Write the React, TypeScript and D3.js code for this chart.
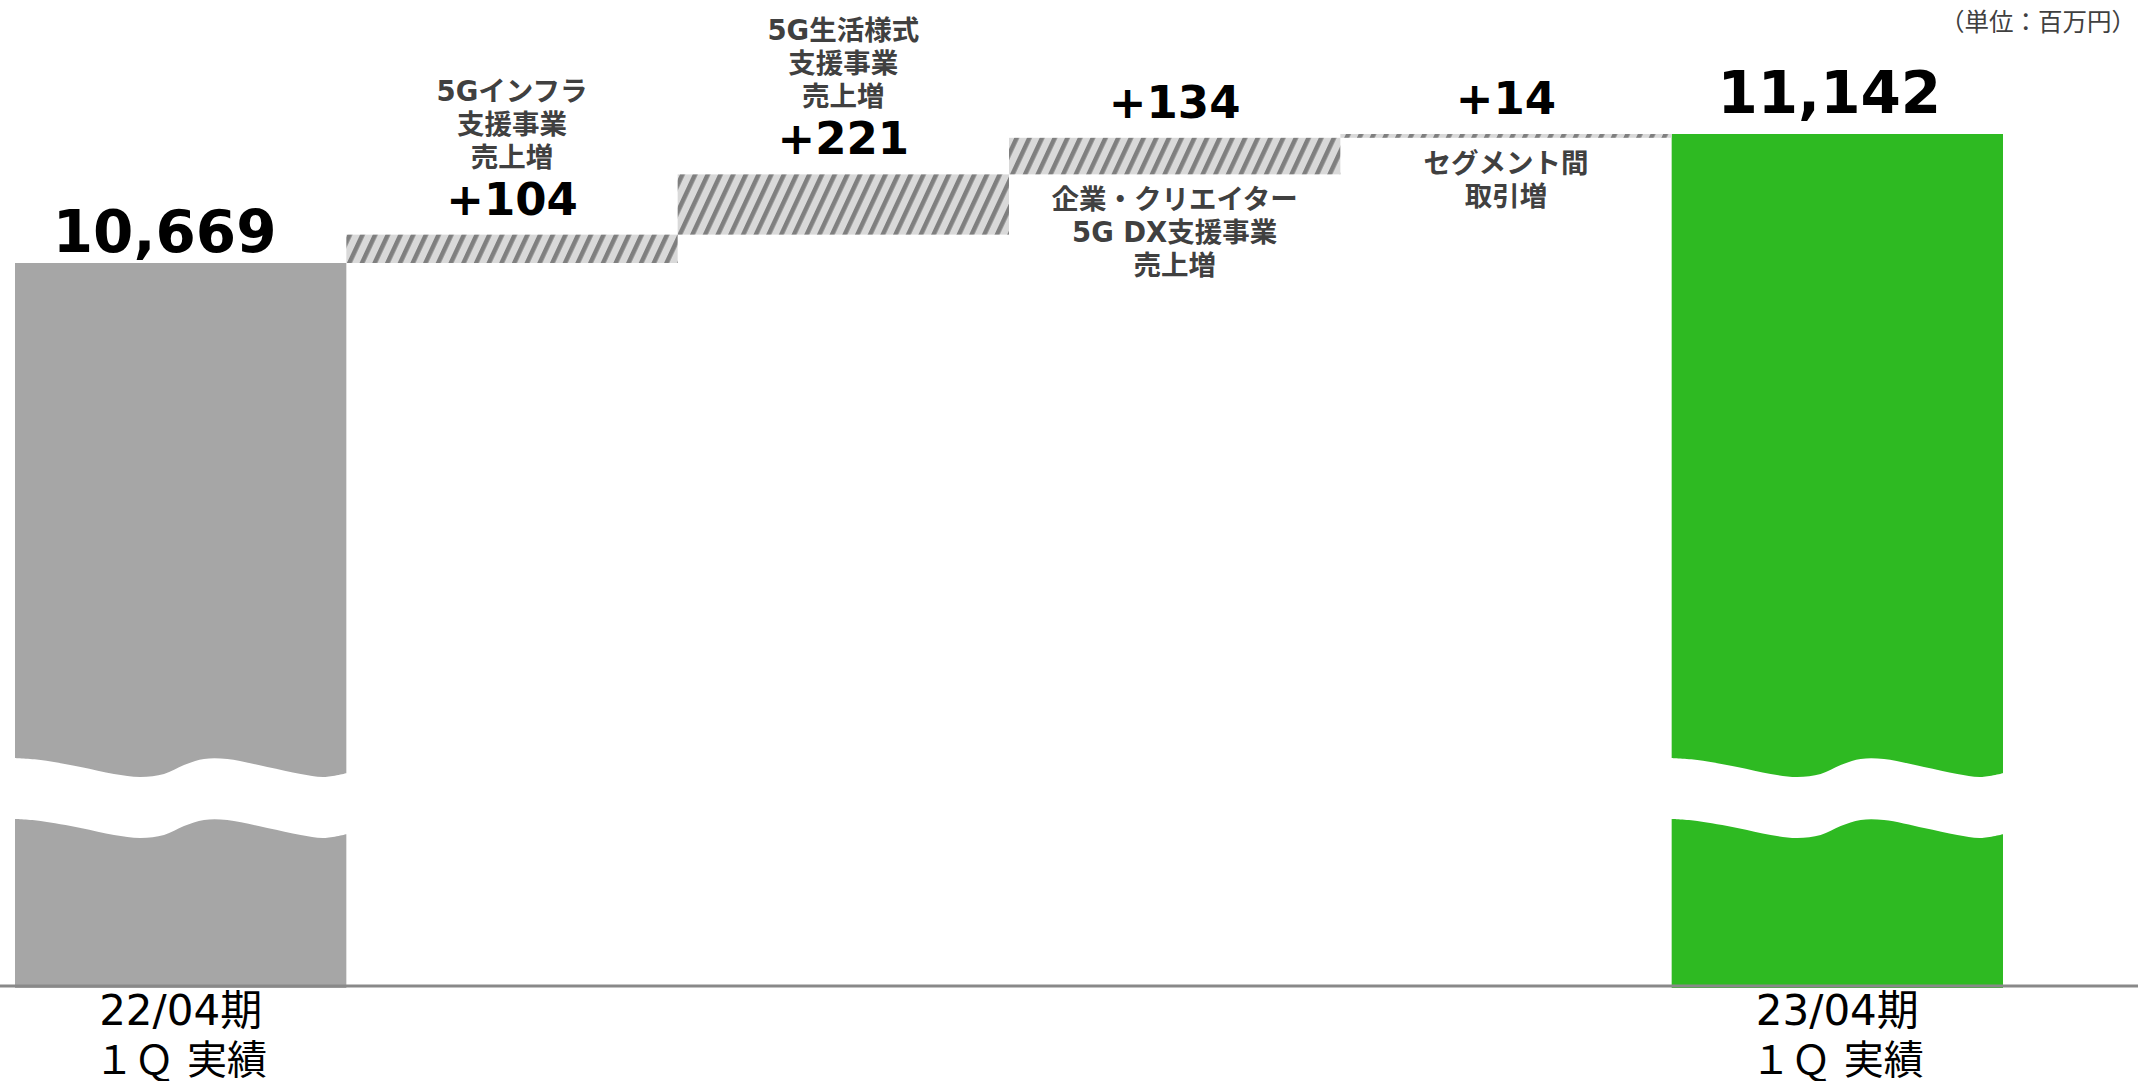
import React from "react";
import * as d3 from "d3";

// values in 百万円
const startLabel = ["22/04期", "１Ｑ 実績"];
const endLabel = ["23/04期", "１Ｑ 実績"];
const startValue = 10669;
const endValue = 11142;

const deltaNames = [
  ["5Gインフラ", "支援事業", "売上増"],
  ["5G生活様式", "支援事業", "売上増"],
  ["企業・クリエイター", "5G DX支援事業", "売上増"],
  ["セグメント間", "取引増"],
];
const deltaValues = [104, 221, 134, 14];

// the axis is broken: everything below this value is hidden behind the wave
const axisFloor = 8018;

const W = 2138;
const H = 1081;
const FONT = "'DejaVu Sans', 'Noto Sans CJK JP', sans-serif";

function App() {
  const x = d3
    .scaleBand<number>()
    .domain(d3.range(deltaValues.length + 2))
    .range([15, 2003])
    .padding(0);

  const y = d3.scaleLinear().domain([axisFloor, endValue]).range([986, 134]);
  const axisY = y(axisFloor);

  // build waterfall steps
  let running = startValue;
  const steps = deltaValues.map((v, i) => {
    const s = { i: i + 1, from: running, to: running + v, value: v, names: deltaNames[i] };
    running += v;
    return s;
  });

  const totals = [
    { i: 0, value: startValue, label: startLabel, fill: "#a6a6a6", dx: -16, gap: 11 },
    { i: deltaValues.length + 1, value: endValue, label: endLabel, fill: "#2eba22", dx: -8, gap: 21 },
  ];

  // wave break shape (fraction of bar width, offset in px)
  const wavePts: [number, number][] = [
    [0, 0],
    [0.08, 2],
    [0.2, 9],
    [0.3, 16],
    [0.38, 19],
    [0.45, 16],
    [0.51, 7],
    [0.57, 1],
    [0.64, 1],
    [0.76, 9],
    [0.86, 16],
    [0.93, 19],
    [1, 15],
  ];
  const breakTop = axisY - 228;
  const breakGap = 61;

  const wave = (x0: number, w: number) =>
    d3
      .area<[number, number]>()
      .x((d) => x0 - 1 + d[0] * (w + 2))
      .y0((d) => breakTop + d[1])
      .y1((d) => breakTop + d[1] + breakGap)
      .curve(d3.curveCatmullRom.alpha(0.5))(wavePts) || "";

  const bw = x.bandwidth();

  return (
    <svg
      width={W}
      height={H}
      style={{ position: "absolute", left: 0, top: 0, background: "#fff" }}
    >
      <defs>
        <pattern
          id="hatch"
          patternUnits="userSpaceOnUse"
          width={11.5}
          height={11.5}
          patternTransform="rotate(25)"
        >
          <rect width={11.5} height={11.5} fill="#d9d9d9" />
          <rect width={4.5} height={11.5} fill="#7f7f7f" />
        </pattern>
      </defs>

      {/* unit */}
      <text
        x={2136}
        y={31}
        textAnchor="end"
        fontFamily={FONT}
        fontSize={24.5}
        fill="#404040"
      >
        （単位：百万円）
      </text>

      {/* total bars */}
      {totals.map((t) => (
        <g key={"t" + t.i}>
          <rect
            x={x(t.i)!}
            y={y(t.value)}
            width={bw}
            height={axisY - y(t.value) + 2}
            fill={t.fill}
          />
          <path d={wave(x(t.i)!, bw)} fill="#fff" />
          <text
            x={x(t.i)! + bw / 2 + t.dx}
            y={y(t.value) - t.gap}
            textAnchor="middle"
            fontFamily={FONT}
            fontWeight="bold"
            fontSize={58}
            fill="#000"
          >
            {d3.format(",")(t.value)}
          </text>
          {t.label.map((line, k) => (
            <text
              key={k}
              x={x(t.i)! + bw / 2}
              y={axisY + 39 + k * 49}
              textAnchor="middle"
              fontFamily={FONT}
              fontSize={k === 0 ? 42 : 40}
              fill="#000"
            >
              {line}
            </text>
          ))}
        </g>
      ))}

      {/* delta bars */}
      {steps.map((s) => {
        const top = y(s.to);
        const bottom = y(s.from);
        const cx = x(s.i)! + bw / 2;
        const valueBase = top - 20;
        const above = s.i <= 2;
        return (
          <g key={"d" + s.i}>
            <rect
              x={x(s.i)!}
              y={top}
              width={bw}
              height={bottom - top}
              fill="url(#hatch)"
            />
            <text
              x={cx}
              y={valueBase}
              textAnchor="middle"
              fontFamily={FONT}
              fontWeight="bold"
              fontSize={45}
              fill="#000"
            >
              {"+" + s.value}
            </text>
            {s.names.map((line, k) => (
              <text
                key={k}
                x={cx}
                y={
                  above
                    ? valueBase - 48 - (s.names.length - 1 - k) * 33
                    : bottom + 35 + k * 33
                }
                textAnchor="middle"
                fontFamily={FONT}
                fontWeight="bold"
                fontSize={27.5}
                fill="#404040"
              >
                {line}
              </text>
            ))}
          </g>
        );
      })}

      {/* baseline */}
      <line x1={0} x2={W} y1={axisY} y2={axisY} stroke="#898989" strokeWidth={3} />
    </svg>
  );
}

export default App;
